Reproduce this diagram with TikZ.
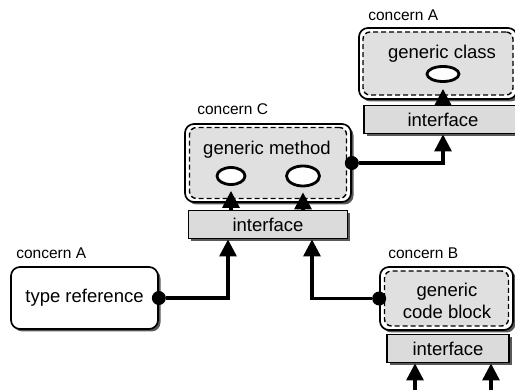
\documentclass[tikz,border=0pt]{standalone}
\usepackage{fontspec}
\setmainfont{Liberation Sans}
\usetikzlibrary{shapes.geometric,arrows.meta,positioning,shadows}

\begin{document}
\begin{tikzpicture}[
  x=1pt, y=-1pt,
  font=\fontsize{18.5}{22}\selectfont,
  every node/.style={align=center},
  shell/.style={draw, line width=1.7pt, rounded corners=9pt, fill=white,
    drop shadow={shadow xshift=2.5pt, shadow yshift=-2.5pt, fill=black!65, opacity=1}},
  core/.style={draw, line width=1.4pt, dash pattern=on 5pt off 3pt, rounded corners=7pt, fill=black!12},
  iface/.style={draw, line width=1.6pt, fill=black!14, minimum height=28pt,
    drop shadow={shadow xshift=2.5pt, shadow yshift=-2.5pt, fill=black!65, opacity=1}},
  tag/.style={font=\fontsize{15.5}{18}\selectfont, inner sep=0pt},
  slot/.style={ellipse, draw, line width=2.8pt, fill=white, inner sep=0pt},
  dot/.style={circle, fill=black, inner sep=0pt, minimum size=14pt},
  link/.style={-{Triangle[length=17pt,width=17pt]}, line width=3.2pt}
]
\useasboundingbox (0,0) rectangle (515,390);
\clip (0,0) rectangle (515,390);

% concern A: generic class
\node[shell, minimum width=158pt, minimum height=71pt] (gcbox) at (438,63.5) {};
\node[core, minimum width=150pt, minimum height=63pt] (gc) at (gcbox) {};
\node (gctext) at (442,54) {generic class};
\node[slot, minimum width=32pt, minimum height=15pt] (gcin) at (443,74) {};
\node[iface, minimum width=158pt, below=5pt of gcbox, xshift=5pt] (ifA) {interface};
\node[tag, above right=6pt and 10pt of gcbox.north west] (gctag) {concern A};

% concern C: generic method
\node[shell, minimum width=166pt, minimum height=78pt] (gmbox) at (268,163) {};
\node[core, minimum width=157pt, minimum height=71pt] (gm) at (gmbox) {};
\node (gmtext) at (267,150) {generic method};
\node[slot, minimum width=28pt, minimum height=17pt] (gmin1) at (231,176) {};
\node[slot, minimum width=33pt, minimum height=20pt] (gmin2) at (303,176) {};
\node[iface, minimum width=159pt, below=7pt of gmbox] (ifC) {interface};
\node[tag, above right=8pt and 13pt of gmbox.north west] (gmtag) {concern C};

% concern A: type reference
\node[shell, minimum width=147pt, minimum height=62pt] (tref) at (84.5,298) {type reference};
\node[tag, above right=7pt and 6pt of tref.north west] (trtag) {concern A};

% concern B: generic code block
\node[shell, minimum width=133pt, minimum height=63pt] (gbbox) at (446.5,298.5) {};
\node[core, minimum width=124pt, minimum height=55pt] (gb) at (gbbox) {};
\node (gbtext) at (447,301) {generic\\code block};
\node[iface, minimum width=122pt, below=3pt of gbbox, xshift=1.5pt] (ifB) {interface};
\node[tag, above right=7pt and 9pt of gbbox.north west] (gbtag) {concern B};

\coordinate (inB1) at (415,392);
\coordinate (inB2) at (491,392);

% connectors
\draw[link, shorten >=6pt] (gcin |- ifA.north) -- (gcin);
\draw[link, shorten >=5pt] (gmin1 |- ifC.north) -- (gmin1);
\draw[link, shorten >=5pt] (gmin2 |- ifC.north) -- (gmin2);
\node[dot] (gmout) at (gmbox.east) {};
\node[dot] (trout) at (tref.east) {};
\node[dot] (gbout) at (gbbox.west) {};
\draw[link] (gmout) -| (ifA.south);
\draw[link] (trout) -| ([xshift=-40pt]ifC.south);
\draw[link] (gbout) -| ([xshift=44pt]ifC.south);
\draw[link] (inB1) -- (inB1 |- ifB.south);
\draw[link] (inB2) -- (inB2 |- ifB.south);
\end{tikzpicture}
\end{document}
